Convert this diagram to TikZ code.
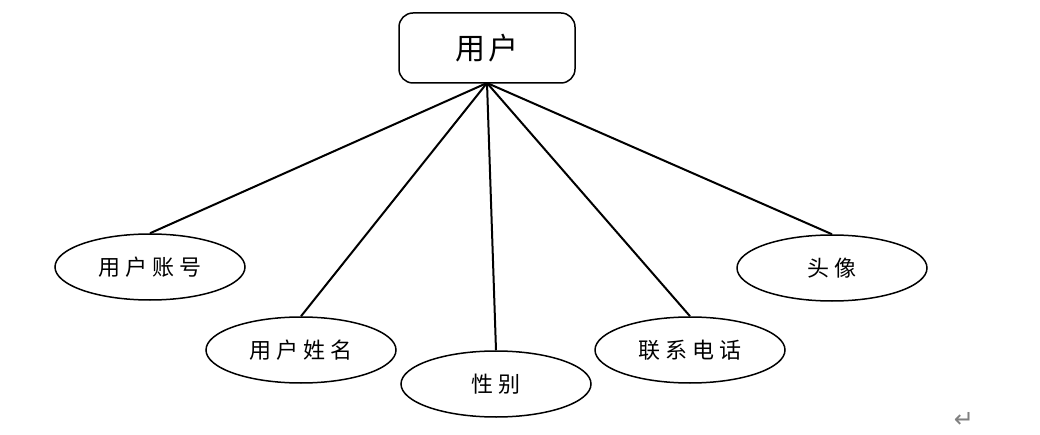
\documentclass[tikz,border=0pt]{standalone}
\usepackage{fontspec}
\newfontfamily\cjk{Noto Sans CJK SC}[LetterSpace=22]
\newfontfamily\cjkh{Noto Sans CJK SC}[LetterSpace=8]
\newfontfamily\djv{DejaVu Sans}
\usetikzlibrary{shapes.geometric}
\tikzset{
  entity/.style={draw=black, line width=1.5pt, rounded corners=14pt, minimum width=176pt, minimum height=70pt, inner sep=0pt, font=\cjkh\fontsize{30}{34}\selectfont},
  attr/.style={draw=black, line width=1.5pt, ellipse, minimum width=190pt, minimum height=66pt, inner sep=0pt, font=\cjk\fontsize{22}{26}\selectfont},
  link/.style={draw=black, line width=2pt}
}
\begin{document}
\begin{tikzpicture}[x=1pt,y=-1pt]
\useasboundingbox (0,0) rectangle (1040,435);
\node[entity] (u) at (487,48) {用户};
\node[attr] (a1) at (150,267) {用户账号};
\node[attr] (a2) at (301,350) {用户姓名};
\node[attr] (a3) at (496,384) {性别};
\node[attr] (a4) at (690,350) {联系电话};
\node[attr] (a5) at (832,268) {头像};
\coordinate (c) at (487,83);
\draw[link] (c) -- (a1.north);
\draw[link] (c) -- (a2.north);
\draw[link] (c) -- (a3.north);
\draw[link] (c) -- (a4.north);
\draw[link] (c) -- (a5.north);
\node[text=gray, font=\djv\fontsize{24}{26}\selectfont, inner sep=0pt] (ret) at (964,420) {↵};
\end{tikzpicture}
\end{document}
